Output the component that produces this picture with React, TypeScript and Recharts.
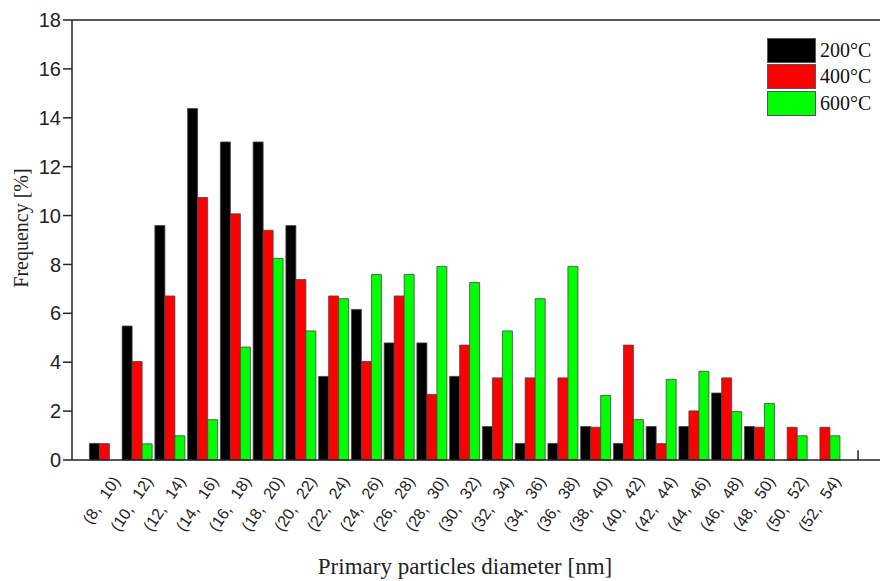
import React from 'react';
import { BarChart, Bar, XAxis, YAxis, Legend, ReferenceLine } from 'recharts';

const categories = [
  '(8, 10)', '(10, 12)', '(12, 14)', '(14, 16)', '(16, 18)', '(18, 20)', '(20, 22)', '(22, 24)',
  '(24, 26)', '(26, 28)', '(28, 30)', '(30, 32)', '(32, 34)', '(34, 36)', '(36, 38)', '(38, 40)',
  '(40, 42)', '(42, 44)', '(44, 46)', '(46, 48)', '(48, 50)', '(50, 52)', '(52, 54)',
];

const t200 = [0.68, 5.48, 9.59, 14.38, 13.01, 13.01, 9.59, 3.42, 6.16, 4.79, 4.79, 3.42, 1.37, 0.68, 0.68, 1.37, 0.68, 1.37, 1.37, 2.74, 1.37, 0, 0];
const t400 = [0.67, 4.03, 6.71, 10.74, 10.07, 9.4, 7.38, 6.71, 4.03, 6.71, 2.68, 4.7, 3.36, 3.36, 3.36, 1.34, 4.7, 0.67, 2.01, 3.36, 1.34, 1.34, 1.34];
const t600 = [0, 0.66, 0.99, 1.65, 4.62, 8.25, 5.28, 6.6, 7.59, 7.59, 7.92, 7.26, 5.28, 6.6, 7.92, 2.64, 1.65, 3.3, 3.63, 1.98, 2.31, 0.99, 0.99];

const yTicks = [0, 2, 4, 6, 8, 10, 12, 14, 16, 18];
const xTicks = [...categories.map((_, i) => i + 1), 24];

const series = [
  { key: 't200', name: '200°C', color: '#000000' },
  { key: 't400', name: '400°C', color: '#ff0000' },
  { key: 't600', name: '600°C', color: '#00ff00' },
];

const data = categories.map((c, i) => ({ x: i + 1, label: c, t200: t200[i], t400: t400[i], t600: t600[i] }));

const sans = '"Liberation Sans", Arial, sans-serif';
const serif = '"Liberation Serif", "Times New Roman", serif';
const axisColor = '#222';

function XTick(props: any) {
  const { x, y, payload } = props;
  const label = categories[payload.value - 1];
  if (!label) return null;
  return (
    <text
      transform={`translate(${x + 16},${y + 21}) rotate(-56)`}
      textAnchor="end"
      fontSize={16}
      wordSpacing={7}
      fontFamily={sans}
      fill="#222"
    >
      {label}
    </text>
  );
}

function LegendBox() {
  return (
    <div style={{ display: 'flex', flexDirection: 'column' }}>
      {series.map((s) => (
        <div key={s.key} style={{ display: 'flex', alignItems: 'center', height: 26.5 }}>
          <div style={{ width: 47, height: 23, background: s.color, border: '1px solid #555' }} />
          <span style={{ marginLeft: 4, fontFamily: serif, fontSize: 20, color: '#111' }}>{s.name}</span>
        </div>
      ))}
    </div>
  );
}

export default function App() {
  return (
    <div style={{ position: 'absolute', left: 0, top: 0, width: 880, height: 581, background: '#fff' }}>
      <BarChart
        width={880}
        height={581}
        data={data}
        margin={{ top: 20, right: 0, bottom: 0, left: 0 }}
        barGap={0}
        barSize={10}
      >
        <XAxis
          dataKey="x"
          type="number"
          domain={[0, 24.67]}
          allowDataOverflow
          ticks={xTicks}
          interval={0}
          tick={<XTick />}
          tickLine={false}
          tickSize={0}
          tickMargin={0}
          height={121}
          axisLine={{ stroke: axisColor, strokeWidth: 1.5 }}
          label={{
            content: (p: any) => {
              const vb = p.viewBox;
              return (
                <text
                  x={vb.x + (vb.width * 12) / 24.67}
                  y={vb.y + 114}
                  textAnchor="middle"
                  fontSize={23}
                  fontFamily={serif}
                  fill="#222"
                >
                  Primary particles diameter [nm]
                </text>
              );
            },
          }}
        />
        <YAxis
          domain={[0, 18]}
          ticks={yTicks}
          interval={0}
          width={72}
          tickSize={9}
          tickMargin={2}
          tick={{ fontSize: 20, fontFamily: sans, fill: '#222' }}
          tickLine={{ stroke: axisColor, strokeWidth: 1.5 }}
          axisLine={{ stroke: axisColor, strokeWidth: 1.5 }}
          label={{
            content: (p: any) => {
              const vb = p.viewBox;
              const cx = 28;
              const cy = vb.y + 208;
              return (
                <text
                  x={cx}
                  y={cy}
                  transform={`rotate(-90, ${cx}, ${cy})`}
                  textAnchor="middle"
                  fontSize={20}
                  fontFamily={serif}
                  fill="#222"
                >
                  Frequency [%]
                </text>
              );
            },
          }}
        />
        <ReferenceLine y={18} stroke={axisColor} strokeWidth={1.5} ifOverflow="extendDomain" />
        <ReferenceLine
          segment={[{ x: 24, y: 0 }, { x: 24, y: 0.4 }]}
          stroke={axisColor}
          strokeWidth={1.5}
        />
        <Legend
          content={<LegendBox />}
          layout="vertical"
          align="center"
          verticalAlign="middle"
          wrapperStyle={{ position: 'absolute', left: 767, top: 37, width: 'auto' }}
        />
        {series.map((s) => (
          <Bar
            key={s.key}
            dataKey={s.key}
            name={s.name}
            fill={s.color}
            stroke="#444"
            strokeWidth={0.8}
            isAnimationActive={false}
          />
        ))}
      </BarChart>
    </div>
  );
}
